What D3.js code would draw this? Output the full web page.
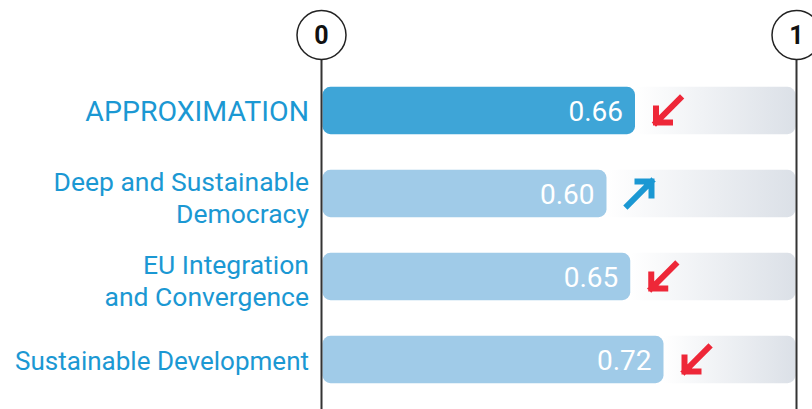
<!DOCTYPE html>
<html>
<head>
<meta charset="utf-8">
<script src="https://cdn.jsdelivr.net/npm/d3@7"></script>
<style>
  body { margin: 0; background: #fff; }
  svg { display: block; font-family: Roboto, "Noto Sans", sans-serif; }
</style>
</head>
<body>
<div id="chart"></div>
<script>
const WIDTH = 812;
const HEIGHT = 409;

// data
const categories = ['APPROXIMATION', 'Deep and Sustainable Democracy', 'EU Integration and Convergence', 'Sustainable Development'];
const labelLines = [['APPROXIMATION'], ['Deep and Sustainable', 'Democracy'], ['EU Integration', 'and Convergence'], ['Sustainable Development']];
const values = [0.66, 0.60, 0.65, 0.72];
const trends = ['down', 'up', 'down', 'down'];
const axisTicks = [0, 1];

const svg = d3.select('#chart')
    .append('svg')
    .attr('width', WIDTH)
    .attr('height', HEIGHT);

// scales
const xScale = d3.scaleLinear()
    .domain([0, 1])
    .range([321.5, 796.5]);

const yScale = d3.scaleBand()
    .domain(categories)
    .range([69, 401])
    .paddingInner(0.43)
    .paddingOuter(0.215);

const rows = categories.map((c, i) => ({
    cat: c, lines: labelLines[i], value: values[i], trend: trends[i], idx: i
}));

// gradients for the grey tracks (white at bar end -> grey at the right)
const defs = svg.append('defs');
rows.forEach(d => {
    const g = defs.append('linearGradient')
        .attr('id', 'track' + d.idx)
        .attr('gradientUnits', 'userSpaceOnUse')
        .attr('x1', xScale(d.value)).attr('x2', xScale(1))
        .attr('y1', 0).attr('y2', 0);
    g.append('stop').attr('offset', 0).attr('stop-color', '#ffffff');
    g.append('stop').attr('offset', 1).attr('stop-color', '#dbe0e7');
});

// tracks
svg.selectAll('.track')
    .data(rows)
    .enter()
    .append('rect')
    .attr('class', 'track')
    .attr('x', xScale(0))
    .attr('y', d => yScale(d.cat))
    .attr('width', xScale(1) - xScale(0) - 1)
    .attr('height', yScale.bandwidth())
    .attr('rx', 8)
    .attr('fill', d => `url(#track${d.idx})`);

// bars
svg.selectAll('.bar')
    .data(rows)
    .enter()
    .append('rect')
    .attr('class', 'bar')
    .attr('x', xScale(0) + 1)
    .attr('y', d => yScale(d.cat))
    .attr('width', d => xScale(d.value) - xScale(0) - 1)
    .attr('height', yScale.bandwidth())
    .attr('rx', 8)
    .attr('fill', (d, i) => i === 0 ? '#3ea5d7' : '#a0cbe8');

// value labels
svg.selectAll('.val')
    .data(rows)
    .enter()
    .append('text')
    .attr('class', 'val')
    .text(d => d.value.toFixed(2))
    .attr('x', d => xScale(d.value) - 12)
    .attr('y', d => yScale(d.cat) + yScale.bandwidth() / 2)
    .attr('dy', '0.36em')
    .attr('text-anchor', 'end')
    .attr('font-size', 28)
    .attr('fill', '#fff');

// trend arrows
const arrowPath = {
    down: 'M-12,-2V12H2M-12,12L12,-12',
    up: 'M-2,-12H12V2M12,-12L-12,12'
};
svg.selectAll('.arrow')
    .data(rows)
    .enter()
    .append('path')
    .attr('class', 'arrow')
    .attr('transform', d => `translate(${xScale(d.value) + 33},${yScale(d.cat) + yScale.bandwidth() / 2})`)
    .attr('d', d => arrowPath[d.trend])
    .attr('fill', 'none')
    .attr('stroke', d => d.trend === 'up' ? '#1b98d3' : '#ee2738')
    .attr('stroke-width', 6)
    .attr('stroke-linecap', 'square')
    .attr('stroke-linejoin', 'miter');

// category labels
const labels = svg.selectAll('.cat')
    .data(rows)
    .enter()
    .append('text')
    .attr('class', 'cat')
    .attr('text-anchor', 'end')
    .attr('fill', '#1b98d3')
    .attr('font-size', (d, i) => i === 0 ? 28.5 : (d.lines.length > 1 ? 26.5 : 26));

labels.selectAll('tspan')
    .data(d => d.lines.map((l, j) => ({ text: l, j, n: d.lines.length, cat: d.cat })))
    .enter()
    .append('tspan')
    .attr('x', 309)
    .attr('y', t => {
        const cy = yScale(t.cat) + yScale.bandwidth() / 2;
        return t.n === 1 ? cy + 10 : cy - 3 + t.j * 32;
    })
    .text(t => t.text);

// axis lines with circled tick labels
const ticks = svg.selectAll('.tick')
    .data(axisTicks)
    .enter()
    .append('g')
    .attr('class', 'tick')
    .attr('transform', d => `translate(${xScale(d)},0)`);

ticks.append('line')
    .attr('y1', 60)
    .attr('y2', HEIGHT)
    .attr('stroke', '#333')
    .attr('stroke-width', 2);

ticks.append('circle')
    .attr('cy', 35)
    .attr('r', 24.5)
    .attr('fill', '#fff')
    .attr('stroke', '#222')
    .attr('stroke-width', 1.5);

ticks.append('text')
    .text(d => d)
    .attr('y', 35)
    .attr('dy', '0.36em')
    .attr('text-anchor', 'middle')
    .attr('font-size', 25)
    .attr('font-weight', 'bold')
    .attr('fill', '#111');
</script>
</body>
</html>
